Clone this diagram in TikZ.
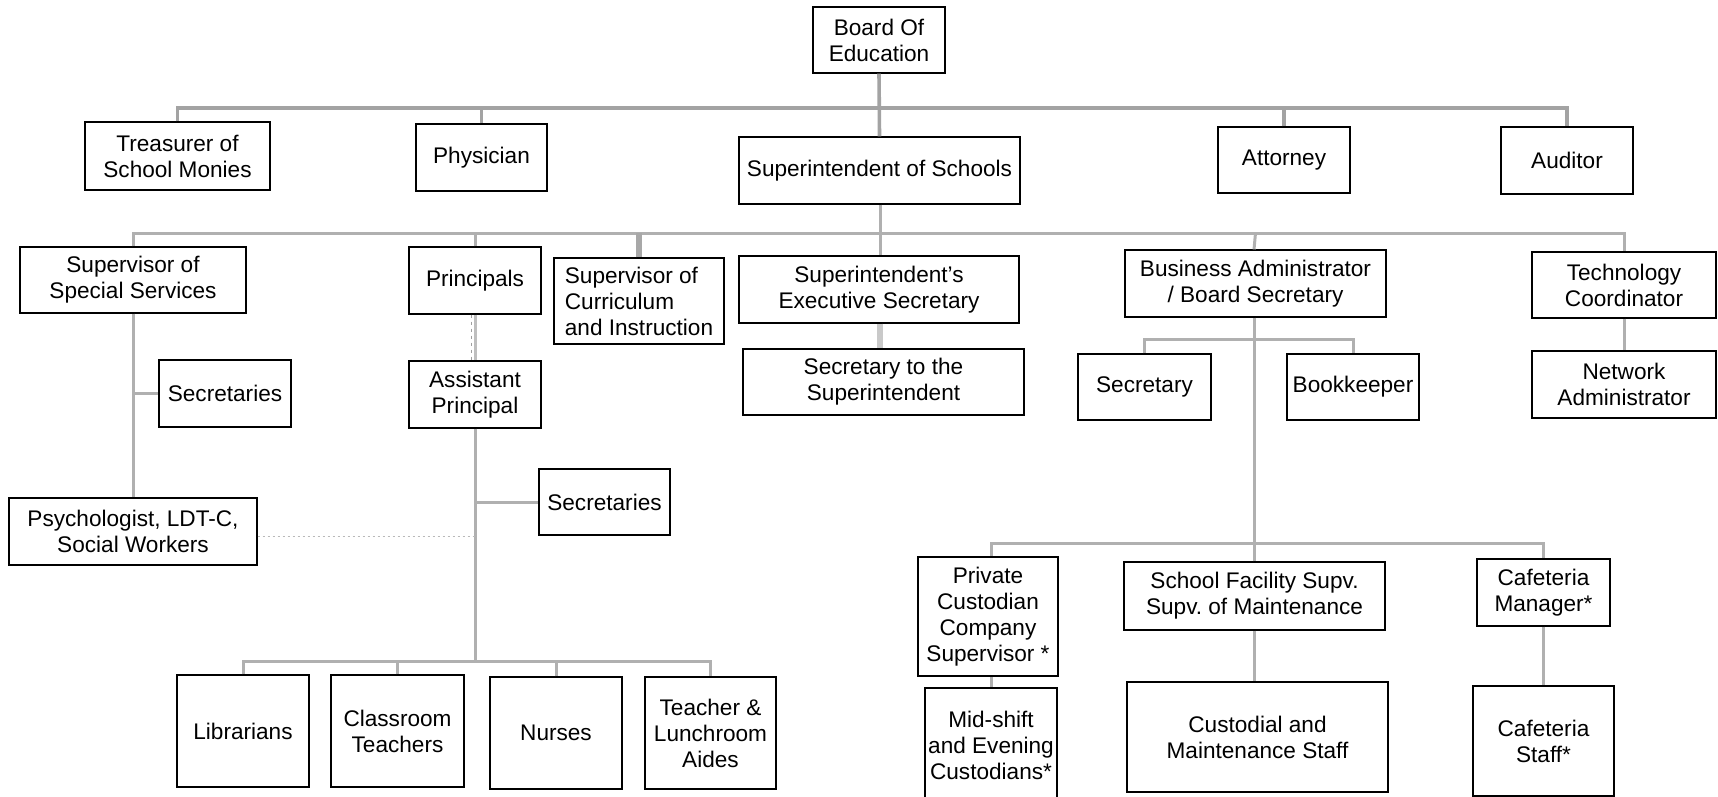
\documentclass[tikz,border=0pt]{standalone}
\usepackage{fontspec}
\setmainfont{Liberation Sans}
\frenchspacing
\begin{document}
\begin{tikzpicture}[x=1pt,y=-1pt,
  box/.style={draw, line width=1.2pt, align=center, inner sep=0pt,
    font=\fontsize{22.6}{26}\selectfont},
  conn/.style={draw=gray!62, line width=3pt},
  topconn/.style={draw=gray!72, line width=3.6pt},
  thickconn/.style={draw=gray!68, line width=6pt},
  lightthick/.style={draw=gray!42, line width=6pt},
  dotconn/.style={draw=gray!55, line width=1pt, dash pattern=on 2pt off 3pt}
]
\useasboundingbox (0,0) rectangle (1718,797);
\fill[white] (0,0) rectangle (1718,797);

% Level 0/1
\node[box, minimum width=132pt, minimum height=66pt] (board) at (879,40) {Board Of\\Education};
\node[box, minimum width=185pt, minimum height=68pt] (treas) at (177.5,156) {Treasurer of\\School Monies};
\node[box, minimum width=131pt, minimum height=67pt] (phys) at (481.5,157.5) {Physician};
\node[box, minimum width=281pt, minimum height=67pt] (supt) at (879.5,170.5) {Superintendent of Schools};
\node[box, minimum width=132pt, minimum height=66pt] (atty) at (1284,160) {Attorney};
\node[box, minimum width=132pt, minimum height=67pt] (aud) at (1567,160.5) {Auditor};

% Level 2
\node[box, minimum width=226pt, minimum height=66pt] (sss) at (133,280) {Supervisor of\\Special Services};
\node[box, minimum width=132pt, minimum height=67pt] (prin) at (475,280.5) {Principals};
\node[box, minimum width=170pt, minimum height=86pt, align=left] (curr) at (639,301) {Supervisor of\\Curriculum\\and Instruction};
\node[box, minimum width=280pt, minimum height=67pt] (exec) at (879,289.5) {Superintendent’s\\Executive Secretary};
\node[box, minimum width=261pt, minimum height=67pt] (busad) at (1255.5,283.5) {Business Administrator\\/ Board Secretary};
\node[box, minimum width=184pt, minimum height=66pt] (tech) at (1624,285) {Technology\\Coordinator};

% Level 3
\node[box, minimum width=281pt, minimum height=66pt] (sects) at (883.5,382) {Secretary to the\\Superintendent};
\node[box, minimum width=133pt, minimum height=66pt] (secy) at (1144.5,387) {Secretary};
\node[box, minimum width=132pt, minimum height=66pt] (book) at (1353,387) {Bookkeeper};
\node[box, minimum width=184pt, minimum height=67pt] (net) at (1624,384.5) {Network\\Administrator};
\node[box, minimum width=132pt, minimum height=67pt] (secL) at (225,393.5) {Secretaries};
\node[box, minimum width=132pt, minimum height=67pt] (asst) at (475,394.5) {Assistant\\Principal};
\node[box, minimum width=131pt, minimum height=66pt] (secM) at (604.5,502) {Secretaries};
\node[box, minimum width=248pt, minimum height=67pt] (psy) at (133,531.5) {Psychologist, LDT-C,\\Social Workers};

% Bottom left
\node[box, minimum width=132pt, minimum height=112pt] (lib) at (243,731) {Librarians};
\node[box, minimum width=133pt, minimum height=112pt] (cls) at (397.5,731) {Classroom\\Teachers};
\node[box, minimum width=132pt, minimum height=112pt] (nur) at (556,733) {Nurses};
\node[box, minimum width=131pt, minimum height=112pt] (aide) at (710.5,733) {Teacher \&\\Lunchroom\\Aides};

% Bottom right
\node[box, line width=2.8pt, minimum width=140pt, minimum height=119pt] (priv) at (988,616.5) {Private\\Custodian\\Company\\Supervisor *};
\node[box, minimum width=261pt, minimum height=68pt] (fac) at (1254.5,596) {School Facility Supv.\\Supv. of Maintenance};
\node[box, minimum width=133pt, minimum height=67pt] (cafm) at (1543.5,592.5) {Cafeteria\\Manager*};
\node[box, minimum width=132pt, minimum height=114pt] (mid) at (991,745) {Mid-shift\\and Evening\\Custodians*};
\node[box, minimum width=261pt, minimum height=110pt] (cust) at (1257.5,737) {Custodial and\\Maintenance Staff};
\node[box, minimum width=141pt, minimum height=110pt] (cafs) at (1543.5,741) {Cafeteria\\Staff*};

% bus coordinates
\coordinate (b1) at (879,108);
\coordinate (b2) at (880,233);
\coordinate (b3) at (1254,339);
\coordinate (b4) at (1254,543);
\coordinate (b5) at (475,661);
\coordinate (jsec) at (133,393.5);
\coordinate (jsecM) at (475,502);
\coordinate (jpsy) at (475,536);

% Top connectors
\draw[topconn] (treas.north) |- (b1) -| (aud.north);
\draw[topconn] (phys.north) -- (phys.north |- b1);
\draw[topconn] (atty.north) -- (atty.north |- b1);
\draw[topconn] (board.south) -- (supt.north);

% Second level
\draw[conn] (sss.north) |- (b2) -| (tech.north);
\draw[conn] (supt.south -| b2) -- (exec.north -| b2);
\draw[conn] (prin.north) -- (prin.north |- b2);
\draw[thickconn] (curr.north) -- (curr.north |- b2);
\draw[conn] (busad.north -| b3) -- (busad.north |- b2);
\draw[lightthick] (exec.south -| b2) -- (sects.north -| b2);

% Special services branch
\draw[conn] (sss.south) -- (psy.north);
\draw[conn] (jsec) -- (secL.west);

% Principals branch
\draw[conn, draw=gray!50] (prin.south) -- (asst.north);
\draw[draw=gray!75, line width=0.8pt, dash pattern=on 3pt off 4pt] ([xshift=-4pt]prin.south) -- ([xshift=-4pt]asst.north);
\draw[conn] (asst.south) -- (b5);
\draw[conn] (jsecM) -- (secM.west);
\draw[dotconn] (psy.east |- jpsy) -- (jpsy);
\draw[conn] (lib.north) |- (b5) -| (aide.north);
\draw[conn] (cls.north) -- (cls.north |- b5);
\draw[conn] (nur.north) -- (nur.north |- b5);

% Business branch
\draw[conn] (busad.south -| b3) -- (b4);
\draw[conn] (secy.north) |- (b3) -| (book.north);
\draw[conn] ([xshift=3pt]priv.north) |- (b4) -| (cafm.north);
\draw[conn] (fac.north -| b4) -- (b4);
\draw[conn] ([xshift=3pt]priv.south) -- (mid.north);
\draw[conn] (fac.south -| b4) -- (cust.north -| b4);
\draw[conn] (cafm.south) -- (cafs.north);

% Technology
\draw[conn] (tech.south) -- (net.north);
\end{tikzpicture}
\end{document}
